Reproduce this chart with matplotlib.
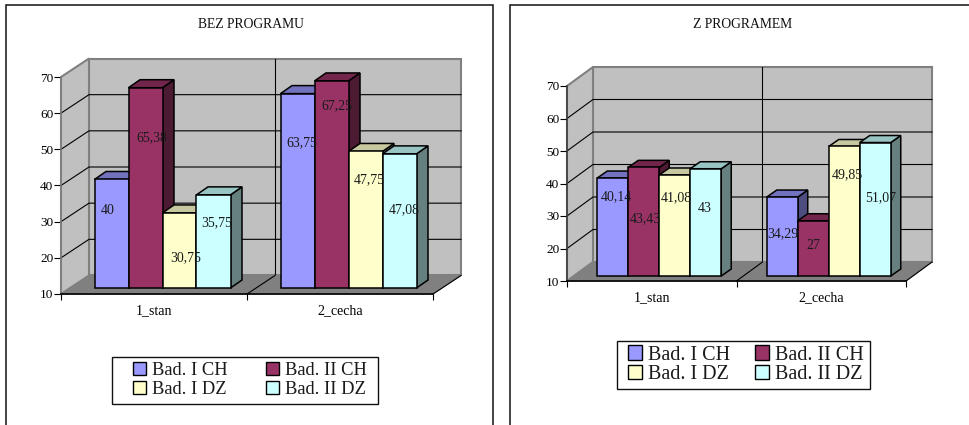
# grouped pseudo-3D bars, two panels
import matplotlib
matplotlib.use("Agg")
import matplotlib.pyplot as plt
from matplotlib.patches import Polygon, Rectangle, Patch

W, H = 969, 425

categories = ["1_stan", "2_cecha"]
series = ["Bad. I CH", "Bad. I DZ", "Bad. II CH", "Bad. II DZ"]
titles = ["BEZ PROGRAMU", "Z PROGRAMEM"]
y_ticks = [10, 20, 30, 40, 50, 60, 70]

# one row per category: I CH, II CH, I DZ, II DZ
bez_values = [[40, 65.38, 30.75, 35.75], [63.75, 67.25, 47.75, 47.08]]
z_values = [[40.14, 43.43, 41.08, 43], [34.29, 27, 49.85, 51.07]]

front_colors = ["#9999FF", "#993366", "#FFFFCC", "#CCFFFF"]
top_colors = ["#7272C0", "#73264C", "#C8C8A0", "#99C4C4"]
side_colors = ["#4D4D80", "#4D1A33", "#80806A", "#668080"]

# layout in pixels, label shifts are by hand because the original labels wander
left_layout = dict(
    frame=(6, 5, 493, 432), axes=(61, 77, 433, 294), depth=(28, 18.5),
    bar_depth=(11.5, 8), bar_shift=(8.5, 6), bar_w=34, spine="#808080",
    title_xy=(250.5, 24.5), legend=(250, 380), legend_box=(112, 357, 378, 404),
    legend_fs=13.3, row_sp=0.15, col_sp=2.1, cat_pad=7,
    label_dx=[[-4, 6, 6.5, 3], [4, 5.5, 4, 4.5]],
    label_frac=[[0.71, 0.75, 0.40, 0.70], [0.75, 0.88, 0.79, 0.586]],
)
right_layout = dict(
    frame=(510, 5, 980, 432), axes=(567, 86, 906, 281), depth=(26, 19),
    bar_depth=(10, 7), bar_shift=(7.5, 5), bar_w=31, spine="#404040",
    title_xy=(743, 24.5), legend=(746, 364.5), legend_box=(617, 341, 870, 389),
    legend_fs=14.5, row_sp=0.0, col_sp=1.2, cat_pad=7,
    label_dx=[[3.5, 1.5, 1.5, -1.5], [0.5, 0.5, 3.5, 5.5]],
    label_frac=[[0.806, 0.525, 0.78, 0.625], [0.53, 0.56, 0.78, 0.59]],
)

plt.rcParams["font.family"] = ["Liberation Serif", "DejaVu Serif"]


def px_rect(box, **kw):
    x0, y0, x1, y1 = box
    return Rectangle((x0 / W, 1 - y1 / H), (x1 - x0) / W, (y1 - y0) / H,
                     transform=fig.transFigure, **kw)


def draw_panel(fig, values, title, lay):
    fig.add_artist(px_rect(lay["frame"], fill=False, edgecolor="#111111", linewidth=1.1))
    ax_l, ax_t, ax_r, ax_b = lay["axes"]
    ax = fig.add_axes([ax_l / W, 1 - ax_b / H, (ax_r - ax_l) / W, (ax_b - ax_t) / H])
    ax.set_xlim(0, len(categories))
    ax.set_ylim(y_ticks[0], y_ticks[-1])
    ax.patch.set_visible(False)

    # pixel sizes converted into data units
    ux = (ax_r - ax_l) / len(categories)
    uy = (ax_b - ax_t) / (y_ticks[-1] - y_ticks[0])
    dx, dy = lay["depth"][0] / ux, lay["depth"][1] / uy
    ymin, ymax = y_ticks[0], y_ticks[-1]
    xmax = len(categories)

    # walls and floor
    ax.add_patch(Polygon([(dx, ymin + dy), (xmax + dx, ymin + dy), (xmax + dx, ymax + dy), (dx, ymax + dy)],
                         facecolor="#C0C0C0", edgecolor="#808080", lw=1.5, clip_on=False, zorder=1))
    ax.add_patch(Polygon([(0, ymin), (dx, ymin + dy), (dx, ymax + dy), (0, ymax)],
                         facecolor="#C0C0C0", edgecolor="#808080", lw=1.5, clip_on=False, zorder=1))
    ax.add_patch(Polygon([(0, ymin), (xmax, ymin), (xmax + dx, ymin + dy), (dx, ymin + dy)],
                         facecolor="#808080", edgecolor="#808080", lw=0.8, clip_on=False, zorder=1.2))
    for v in y_ticks[1:-1]:
        ax.plot([0, dx, xmax + dx], [v, v + dy, v + dy], color="black", lw=0.8,
                clip_on=False, zorder=1.1, solid_joinstyle="miter")
    ax.plot([1 + dx, 1 + dx], [ymin + dy, ymax + dy], color="black", lw=0.8, clip_on=False, zorder=1.1)
    for c in range(1, xmax + 1):
        ax.plot([c, c + dx], [ymin, ymin + dy], color="black", lw=0.8, clip_on=False, zorder=1.3)

    # bars, left to right so each front covers the previous side face
    bw = lay["bar_w"] / ux
    bdx, bdy = lay["bar_depth"][0] / ux, lay["bar_depth"][1] / uy
    sx, sy = lay["bar_shift"][0] / ux, lay["bar_shift"][1] / uy
    z = 3.0
    for c, row in enumerate(values):
        start = c + 0.5 + sx - bw * len(row) / 2
        base = ymin + sy
        for i, v in enumerate(row):
            l, r = start + i * bw, start + (i + 1) * bw
            top = v + sy
            edge = dict(edgecolor="black", lw=1.1, clip_on=False, joinstyle="miter")
            ax.add_patch(Polygon([(r, base), (r + bdx, base + bdy), (r + bdx, top + bdy), (r, top)],
                                 facecolor=side_colors[i], zorder=z, **edge))
            ax.add_patch(Polygon([(l, top), (r, top), (r + bdx, top + bdy), (l + bdx, top + bdy)],
                                 facecolor=top_colors[i], zorder=z, **edge))
            ax.add_patch(Polygon([(l, base), (r, base), (r, top), (l, top)],
                                 facecolor=front_colors[i], zorder=z + 0.1, **edge))
            z += 0.2
    # labels go on last, they run over the neighbouring bars
    for c, row in enumerate(values):
        start = c + 0.5 + sx - bw * len(row) / 2
        for i, v in enumerate(row):
            lx = start + (i + 0.5) * bw + lay["label_dx"][c][i] / ux
            ly = ymin + sy + (v - ymin) * lay["label_frac"][c][i]
            ax.text(lx, ly, str(v).replace(".", ","), ha="center", va="center",
                    fontsize=10, color="#1A1A1A", zorder=20)

    # axes
    ax.set_yticks(y_ticks)
    ax.set_xticks(range(xmax + 1))
    ax.set_xticklabels([])
    ax.set_xticks([c + 0.5 for c in range(xmax)], minor=True)
    ax.set_xticklabels(categories, minor=True)
    ax.tick_params(axis="y", length=5, width=0.8, labelsize=9.5, pad=0.5)
    ax.tick_params(axis="x", which="major", length=4, width=0.8)
    ax.tick_params(axis="x", which="minor", length=0, labelsize=10, pad=lay["cat_pad"])
    for name in ("top", "right"):
        ax.spines[name].set_visible(False)
    ax.spines["left"].set_color(lay["spine"])
    ax.spines["left"].set_linewidth(1.2)
    ax.spines["left"].set_zorder(2)
    ax.spines["bottom"].set_linewidth(1.2)
    ax.spines["bottom"].set_zorder(2)

    tx, ty = lay["title_xy"]
    fig.text(tx / W, 1 - ty / H, title, ha="center", va="center", fontsize=9.8, color="#111111")

    # box drawn apart: legend borderpad cannot give wide sides with a tight top
    fig.add_artist(px_rect(lay["legend_box"], facecolor="white", edgecolor="#111111", linewidth=1.0))
    # handles listed column-first so rows read I CH, II CH / I DZ, II DZ
    colors = [front_colors[0], front_colors[2], front_colors[1], front_colors[3]]
    handles = [Patch(facecolor=col, edgecolor="black", linewidth=1.0) for col in colors]
    fig.legend(handles, series, ncol=2, loc="center",
               bbox_to_anchor=(lay["legend"][0] / W, 1 - lay["legend"][1] / H),
               fontsize=lay["legend_fs"], frameon=False, handlelength=0.7, handleheight=0.7,
               handletextpad=0.3, columnspacing=lay["col_sp"], labelspacing=lay["row_sp"],
               borderpad=0, borderaxespad=0, labelcolor="#1A1A1A")


fig = plt.figure(figsize=(W / 100, H / 100), dpi=100, facecolor="white")
draw_panel(fig, bez_values, titles[0], left_layout)
draw_panel(fig, z_values, titles[1], right_layout)
fig.savefig("out.png", dpi=100)
